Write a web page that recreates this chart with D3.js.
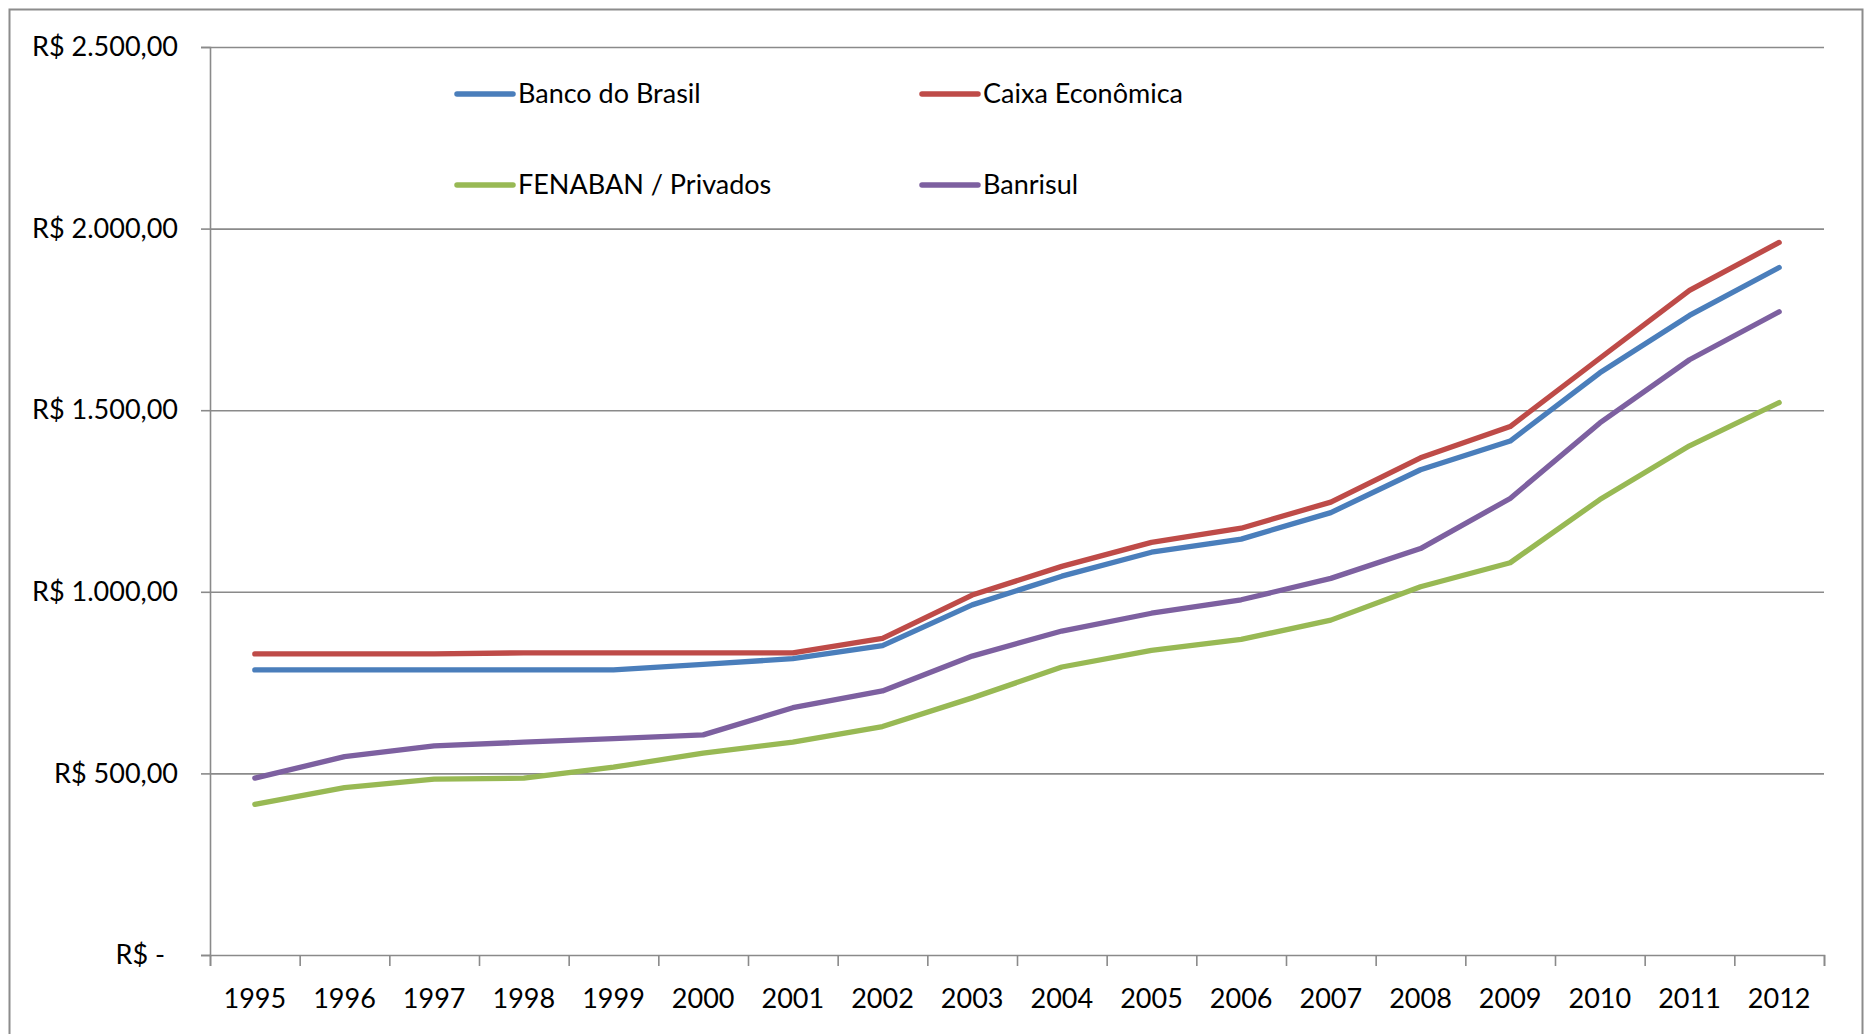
<!DOCTYPE html>
<html><head><meta charset="utf-8">
<script src="https://cdn.jsdelivr.net/npm/d3@7"></script>
<style>
html,body{margin:0;padding:0;background:#fff;}
svg{display:block;font-family:Lato,"Open Sans",sans-serif;}
</style>
</head><body>
<svg id="chart" width="1872" height="1034"></svg>
<script>
// ---- data ----
const years = ["1995","1996","1997","1998","1999","2000","2001","2002","2003","2004","2005","2006","2007","2008","2009","2010","2011","2012"];
const bancoDoBrasil  = [785,785,785,785,785,800,816,852,964,1043,1109,1145,1218,1336,1415,1603,1761,1893];
const caixaEconomica = [829,829,829,832,832,832,832,872,991,1070,1136,1175,1247,1369,1455,1643,1830,1962];
const fenabanPrivados= [415,461,484,487,517,556,586,629,708,793,839,869,922,1014,1080,1254,1402,1521];
const banrisul       = [487,546,576,586,596,606,681,727,823,892,941,978,1037,1119,1257,1465,1639,1771];
const seriesNames  = ["Banco do Brasil","Caixa Econômica","FENABAN / Privados","Banrisul"];
const seriesValues = [bancoDoBrasil, caixaEconomica, fenabanPrivados, banrisul];
const seriesColors = ["#4A7EBB","#BE4B48","#98B954","#7D60A0"];
const yTickValues  = [0,500,1000,1500,2000,2500];

// ---- layout ----
const plot = {left:210, right:1824, top:47, bottom:955};
const svg = d3.select("#chart");
const fontSize = 27;
const gridColor = "#8a8a8a";

// outer frame
svg.append("rect").attr("x",9.5).attr("y",9.5).attr("width",1853).attr("height",1100)
  .attr("fill","none").attr("stroke","#8c8c8c").attr("stroke-width",2);

const x = d3.scaleBand().domain(years).range([plot.left, plot.right]).padding(0);
const xIdx = d3.scaleLinear().domain([0, years.length]).range([plot.left, plot.right]);
const y = d3.scaleLinear().domain([0,2500]).range([plot.bottom, plot.top]);

const locale = d3.formatLocale({decimal:",", thousands:".", grouping:[3], currency:["R$ ",""]});
const fmt = locale.format(",.2f");
const yLabel = v => v === 0 ? "R$ -" : "R$ " + fmt(v);

// gridlines
const grid = svg.append("g").attr("transform",`translate(${plot.left},0)`)
  .call(d3.axisLeft(y).tickValues(yTickValues.filter(v=>v>0)).tickSize(-(plot.right-plot.left)).tickFormat(""));
grid.select(".domain").remove();
grid.selectAll("line").attr("stroke",gridColor).attr("stroke-width",1.6);

// y axis with labels
const yAx = svg.append("g").attr("transform",`translate(${plot.left},0)`)
  .call(d3.axisLeft(y).tickValues(yTickValues).tickSize(9).tickPadding(23).tickFormat(yLabel));
yAx.select(".domain").attr("stroke",gridColor).attr("stroke-width",1.6);
yAx.selectAll("line").attr("stroke",gridColor).attr("stroke-width",1.6);
yAx.selectAll("text").attr("font-size",fontSize).attr("fill","#000").attr("font-family","Lato")
  .attr("dx", d => d === 0 ? -13 : 0);

// x axis: tick marks at category boundaries
const xTicks = svg.append("g").attr("transform",`translate(0,${plot.bottom})`)
  .call(d3.axisBottom(xIdx).tickValues(d3.range(years.length+1)).tickSize(11).tickFormat(""));
xTicks.select(".domain").attr("stroke",gridColor).attr("stroke-width",1.6);
xTicks.selectAll("line").attr("stroke",gridColor).attr("stroke-width",1.6);

// x labels
const xLab = svg.append("g").attr("transform",`translate(0,${plot.bottom})`)
  .call(d3.axisBottom(x).tickSize(0).tickPadding(34));
xLab.select(".domain").remove();
xLab.selectAll("text").attr("font-size",fontSize).attr("fill","#000").attr("font-family","Lato");

// lines
const line = d3.line()
  .x((d,i) => x(years[i]) + x.bandwidth()/2)
  .y(d => y(d));
seriesValues.forEach((vals, k) => {
  svg.append("path").datum(vals).attr("d", line)
    .attr("fill","none").attr("stroke",seriesColors[k]).attr("stroke-width",5.3)
    .attr("stroke-linejoin","round").attr("stroke-linecap","round");
});

// legend
const legendCols = [457, 922], legendRows = [94, 185];
seriesNames.forEach((name, k) => {
  const lx = legendCols[k % 2], ly = legendRows[Math.floor(k/2)];
  const g = svg.append("g").attr("transform",`translate(${lx},${ly})`);
  g.append("line").attr("x1",0).attr("x2",56).attr("y1",0).attr("y2",0)
    .attr("stroke",seriesColors[k]).attr("stroke-width",5.5).attr("stroke-linecap","round");
  g.append("text").attr("x",61).attr("y",0).attr("dy","0.35em")
    .attr("font-size",fontSize).attr("fill","#000").text(name);
});
</script>
</body></html>
